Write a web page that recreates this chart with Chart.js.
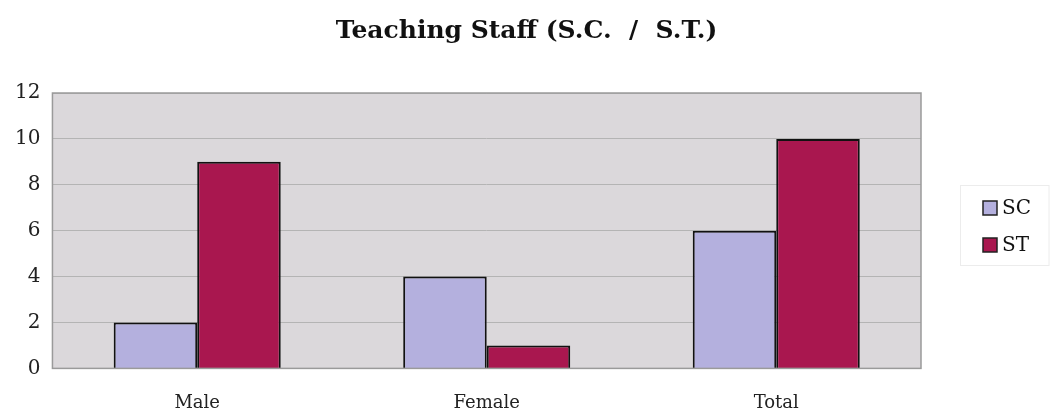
<!DOCTYPE html>
<html><head><meta charset="utf-8">
<script src="https://cdn.jsdelivr.net/npm/chart.js@4/dist/chart.umd.min.js"></script>
<style>html,body{margin:0;padding:0;background:#fff}#wrap{width:1050px;height:414px;position:relative}</style>
</head><body><div id="wrap"><canvas id="c" width="1050" height="414"></canvas></div>
<script>
const categories = ["Male", "Female", "Total"];
const scValues = [2, 4, 6];
const stValues = [9, 1, 10];
const seriesNames = ["SC", "ST"];
const seriesColors = ["#b4b0de", "#a9174f"];
const yTicks = [0, 2, 4, 6, 8, 10, 12];

const plotBg = {
  id: 'plotBg',
  beforeDraw(chart) {
    const {ctx, chartArea: a} = chart;
    ctx.save();
    ctx.fillStyle = '#dbd8db';
    ctx.fillRect(a.left, a.top, a.right - a.left, a.bottom - a.top);
    ctx.restore();
  },
  afterDraw(chart) {
    const {ctx, chartArea: a} = chart;
    ctx.save();
    ctx.strokeStyle = '#9a9a9a';
    ctx.lineWidth = 1.5;
    ctx.strokeRect(a.left, a.top, a.right - a.left, a.bottom - a.top);
    // legend (drawn beside the plot, from the dataset definitions)
    const ds = chart.data.datasets;
    const lx = a.right + 62, y0 = 208, step = 37;
    ctx.strokeStyle = '#ececec';
    ctx.lineWidth = 1;
    ctx.strokeRect(a.right + 39.5, 185.5, 1049 - (a.right + 39.5), 80);
    ctx.font = '20px "DejaVu Serif"';
    ctx.textBaseline = 'middle';
    ds.forEach((d, i) => {
      const y = y0 + i * step;
      ctx.fillStyle = d.backgroundColor;
      ctx.fillRect(lx, y - 7, 14, 14);
      ctx.strokeStyle = '#222';
      ctx.lineWidth = 1.5;
      ctx.strokeRect(lx, y - 7, 14, 14);
      ctx.fillStyle = '#111';
      ctx.fillText(d.label, lx + 19, y + 1);
    });
    ctx.restore();
  }
};

new Chart(document.getElementById('c'), {
  type: 'bar',
  data: {
    labels: categories,
    datasets: [
      {label: seriesNames[0], data: scValues, backgroundColor: seriesColors[0], borderColor: '#111', borderWidth: 2},
      {label: seriesNames[1], data: stValues, backgroundColor: seriesColors[1], borderColor: '#111', borderWidth: 2}
    ]
  },
  options: {
    responsive: false,
    animation: false,
    layout: {padding: {left: 3, right: 0, bottom: -24}},
    datasets: {bar: {categoryPercentage: 0.577, barPercentage: 1}},
    scales: {
      x: {
        grid: {display: false, drawTicks: false},
        border: {display: false},
        ticks: {color: '#222', padding: 24, font: {family: 'DejaVu Serif', size: 18}}
      },
      y: {
        min: 0, max: 12,
        afterBuildTicks(s) { s.ticks = yTicks.map(v => ({value: v})); },
        grid: {color: '#b4b4b4', drawTicks: false, lineWidth: 1},
        border: {display: false},
        ticks: {color: '#222', padding: 12, font: {family: 'DejaVu Serif', size: 20}}
      },
      legendSpace: {
        type: 'linear',
        position: 'right',
        display: true,
        grid: {display: false, drawTicks: false},
        border: {display: false},
        ticks: {display: false},
        afterFit(s) { s.width = 129; }
      }
    },
    plugins: {
      title: {
        display: true,
        text: 'Teaching Staff (S.C.  /  S.T.)',
        color: '#111',
        font: {family: 'DejaVu Serif', size: 25, weight: 'bold'},
        padding: {top: 16, bottom: 47}
      },
      legend: {display: false},
      tooltip: {enabled: false}
    }
  },
  plugins: [plotBg]
});
</script></body></html>
